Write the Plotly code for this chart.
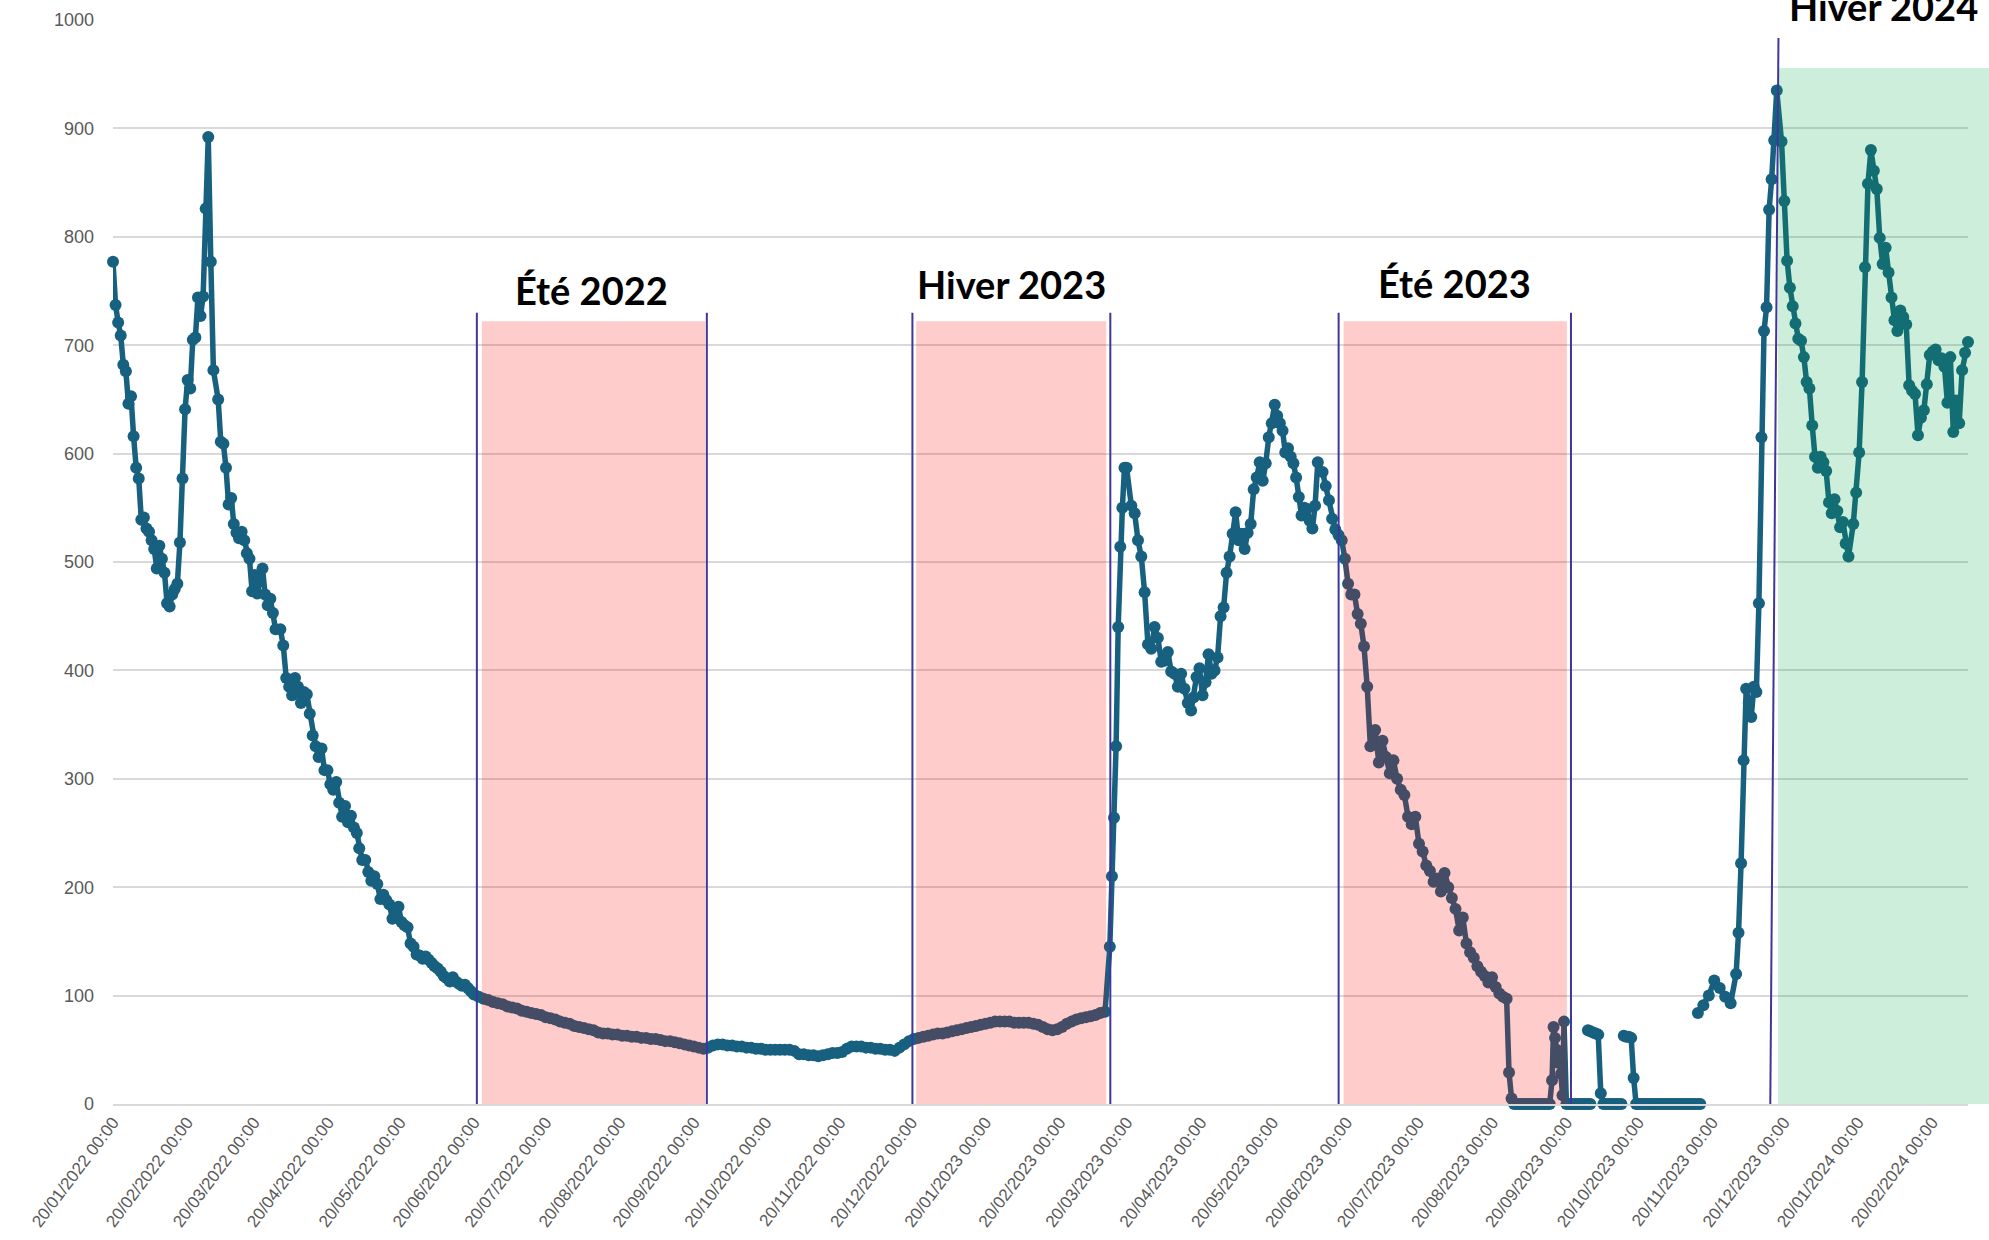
import pandas as pd
import plotly.graph_objects as go

# ---------------------------------------------------------------------------
# Readings (daily-ish). Each block lists values spread evenly between its
# first and last date; blocks inside one run are joined by the line, runs
# are separated by gaps in the record.
# ---------------------------------------------------------------------------
janv_mars_2022 = [777, 737, 721, 709, 682, 676, 646, 653, 616, 587, 577, 539, 541, 531,
                  528, 520, 512, 494, 515, 503, 490, 462, 459, 470, 475, 480, 518, 577,
                  641, 668, 660, 705, 707, 744, 727, 745, 826, 892, 777, 677]
mars_2022 = [650, 611, 609, 587, 553, 559, 535, 527, 522, 528, 520, 508, 503, 473, 488,
             471, 485, 494, 470, 460, 466, 453, 438]
avril_2022 = [438, 423, 393, 385, 377, 393, 385, 370, 380, 378, 360, 340, 330, 320, 328,
              308, 308, 295, 290, 297, 278, 265, 275, 260, 266, 255, 250]
mai_juin_2022 = [236, 225, 225, 214, 206, 210, 203, 189, 193, 188, 184, 171, 175, 182, 168,
                 165, 163, 148, 145, 138, 137, 134, 136, 133, 130, 127, 125, 122, 118, 116,
                 113, 117, 113, 111, 109, 110, 107, 104, 101]
ete_2022 = [99, 97, 96, 94, 93, 92, 90, 89, 88, 86, 85, 84, 83, 82, 80, 79, 78, 76, 75, 74,
            72, 71, 70, 69, 68, 66, 65, 65, 64, 64, 63, 63, 62, 62, 61, 61, 60, 60, 59, 58,
            58, 57, 56, 55, 54, 53, 52, 51]
automne_2022 = [52, 54, 55, 55, 54, 54, 53, 53, 52, 52, 51, 51, 50, 50, 50, 50, 50, 50, 49,
                46, 46, 45, 45, 44, 45, 46, 47, 47, 48, 51, 53, 53, 53, 52, 52, 51, 51, 50,
                50, 49, 52, 55, 58, 60]
hiver_2023 = [61, 62, 63, 64, 65, 65, 66, 67, 68, 69, 70, 71, 72, 73, 74, 75, 76, 76, 76, 76,
              75, 75, 75, 75, 74, 73, 71, 69, 68, 69, 71, 74, 76, 78, 79, 80, 81, 82, 84, 85]
mars_2023 = [145, 210, 264, 330, 440, 514, 550, 587, 587]
printemps_2023_a = [552, 545, 520, 505, 472, 424, 420, 440, 430, 408, 409, 417, 399, 397,
                    385, 397, 383, 370, 363]
printemps_2023_b = [375, 394, 402, 377, 389, 415, 397, 400, 412, 450, 458, 490, 505, 526,
                    546, 520, 526, 512, 527, 535, 567, 578, 592, 575, 591, 615, 628, 645]
printemps_2023_c = [635, 628, 621, 601, 605, 597, 591, 578, 560, 543, 550, 549, 538, 531,
                    552, 592]
ete_2023_a = [583, 570, 557, 540, 530, 525, 520, 503, 480, 470, 470, 452, 443, 422, 385, 330]
ete_2023_b = [345, 315, 335, 320, 305, 317, 300, 290, 285, 265, 258, 265, 240, 233, 220, 215,
              205, 208, 196, 213, 200, 190, 180, 160, 172, 148, 140, 135, 127, 122, 118, 112,
              117, 108, 102, 99, 97]
sept_2023_a = [29, 5, 0, 0, 0, 0, 0, 0, 0, 0, 0, 0, 0, 0, 0, 0, 0]
sept_2023_b = [22, 71, 61, 50, 38, 44, 28, 8, 76]
sept_2023_c = [0, 0, 0, 0, 0, 0, 0, 0, 0, 0, 0]
oct_2023_a = [68, 67, 66, 65, 64, 10, 0, 0, 0, 0, 0, 0, 0, 0]
oct_2023_b = [63, 62, 62, 61, 24, 0, 0, 0, 0, 0, 0, 0, 0, 0, 0, 0, 0, 0, 0, 0, 0, 0, 0, 0,
              0, 0, 0, 0, 0, 0, 0, 0]
nov_2023 = [84, 91, 100, 114, 107, 99, 93, 120]
dec_2023 = [158, 222, 317, 383, 370, 357, 385, 380, 462, 615, 713, 735, 825, 853, 889, 935]
hiver_2024_a = [888, 833, 778, 753, 736, 720, 706, 704, 689, 666, 660, 626, 597, 587, 597,
                592, 584, 555, 545, 558, 547, 532, 537, 517, 505]
hiver_2024_b = [535, 564, 601, 666, 772, 849, 880, 861, 844, 799, 775, 790, 767, 744, 723,
                713, 732, 726, 719, 663, 658, 655, 617, 633, 640, 664, 691, 694, 696, 686,
                688, 680, 647, 689, 620, 649, 628, 677, 693, 703]

runs = [
    [("2022-01-20", "2022-03-03", janv_mars_2022),
     ("2022-03-05", "2022-03-29", mars_2022),
     ("2022-03-31", "2022-05-02", avril_2022),
     ("2022-05-03", "2022-06-20", mai_juin_2022),
     ("2022-06-22", "2022-09-24", ete_2022),
     ("2022-09-26", "2022-12-21", automne_2022),
     ("2022-12-23", "2023-03-11", hiver_2023),
     ("2023-03-13", "2023-03-20", mars_2023),
     ("2023-03-22", "2023-04-16", printemps_2023_a),
     ("2023-04-17", "2023-05-21", printemps_2023_b),
     ("2023-05-22", "2023-06-08", printemps_2023_c),
     ("2023-06-10", "2023-06-30", ete_2023_a),
     ("2023-07-02", "2023-08-26", ete_2023_b),
     ("2023-08-27", "2023-09-13", sept_2023_a),
     ("2023-09-14", "2023-09-19", sept_2023_b),
     ("2023-09-20", "2023-09-30", sept_2023_c)],
    [("2023-09-29", "2023-10-13", oct_2023_a)],
    [("2023-10-14", "2023-11-15", oct_2023_b)],
    [("2023-11-14", "2023-11-30", nov_2023),
     ("2023-12-01", "2023-12-17", dec_2023),
     ("2023-12-19", "2024-01-16", hiver_2024_a),
     ("2024-01-18", "2024-03-06", hiver_2024_b)],
]

# Seasons: label, label centre, shaded span, boundary lines, label height
saisons = [
    ("Été 2022", "2022-08-08", ("2022-06-23 07:00", "2022-09-24 17:00"),
     ("2022-06-21 05:00", "2022-09-25 10:00"), 0.751),
    ("Hiver 2023", "2023-01-30 17:00", ("2022-12-22 00:00", "2023-03-11 12:00"),
     ("2022-12-20 10:00", "2023-03-13 05:00"), 0.756),
    ("Été 2023", "2023-08-04 07:00", ("2023-06-18 19:00", "2023-09-20 05:00"),
     ("2023-06-16 17:00", "2023-09-21 22:00"), 0.757),
]

BLUE = "#17607F"
EDGE = "#40369A"
YTICK_FONT = dict(family="Liberation Sans, Arial, sans-serif", size=18, color="#595959")
XTICK_FONT = dict(family="Liberation Sans, Arial, sans-serif", size=17, color="#595959")
TITLE_FONT = dict(family="Lato, sans-serif", size=38, color="#000000")

fig = go.Figure()
for run in runs:
    xs, ys = [], []
    for first, last, values in run:
        xs += list(pd.date_range(first, last, periods=len(values)))
        ys += list(values)
    fig.add_trace(go.Scatter(
        x=xs, y=ys, mode="lines+markers",
        line=dict(color=BLUE, width=5.5),
        marker=dict(color=BLUE, size=12),
        cliponaxis=False, showlegend=False,
    ))

shapes = []
annotations = []
for label, centre, (r0, r1), (l0, l1), ylab in saisons:
    shapes.append(dict(type="rect", xref="x", yref="paper", x0=r0, x1=r1, y0=0, y1=0.722,
                       fillcolor="rgb(255,0,0)", opacity=0.2, line=dict(width=0),
                       layer="above"))
    for lx in (l0, l1):
        shapes.append(dict(type="line", xref="x", yref="paper", x0=lx, x1=lx, y0=0, y1=0.730,
                           line=dict(color=EDGE, width=2), layer="above"))
    annotations.append(dict(text=f"<b>{label}</b>", x=centre, y=ylab, xref="x", yref="paper",
                            xanchor="center", yanchor="middle", showarrow=False,
                            font=TITLE_FONT))

# Winter 2024: green span running off the right edge, slanted start line
shapes.append(dict(type="rect", xref="paper", yref="paper", x0=0.8976, x1=1.02, y0=0, y1=0.9557,
                   fillcolor="rgb(0,170,70)", opacity=0.2, line=dict(width=0), layer="above"))
shapes.append(dict(type="line", xref="x", yref="paper", x0="2023-12-14 07:00", y0=0,
                   x1="2023-12-17 17:00", y1=0.9834, line=dict(color=EDGE, width=2),
                   layer="above"))
annotations.append(dict(text="<b>Hiver 2024</b>", x="2024-01-30 14:00", y=1.0131, xref="x",
                        yref="paper", xanchor="center", yanchor="middle", showarrow=False,
                        font=TITLE_FONT))

fig.update_layout(
    width=1989, height=1240,
    margin=dict(l=113, r=21, t=20, b=136, autoexpand=False),
    paper_bgcolor="white", plot_bgcolor="white",
    shapes=shapes, annotations=annotations,
    showlegend=False,
)
fig.update_xaxes(
    type="date", range=["2022-01-20", "2024-03-06"],
    tick0="2022-01-20", dtick="M1", tickformat="%d/%m/%Y %H:%M",
    tickangle=-53, tickfont=XTICK_FONT, showgrid=False, zeroline=False,
    showline=True, linecolor="#D9D9D9", linewidth=1.5, ticks="", automargin=False,
)
fig.update_yaxes(
    range=[0, 1000], dtick=100, tickfont=YTICK_FONT, showgrid=True,
    gridcolor="#D9D9D9", gridwidth=1.5, zeroline=False, ticks="",
    ticklabelstandoff=18, automargin=False,
)

fig.write_html("out.html")
